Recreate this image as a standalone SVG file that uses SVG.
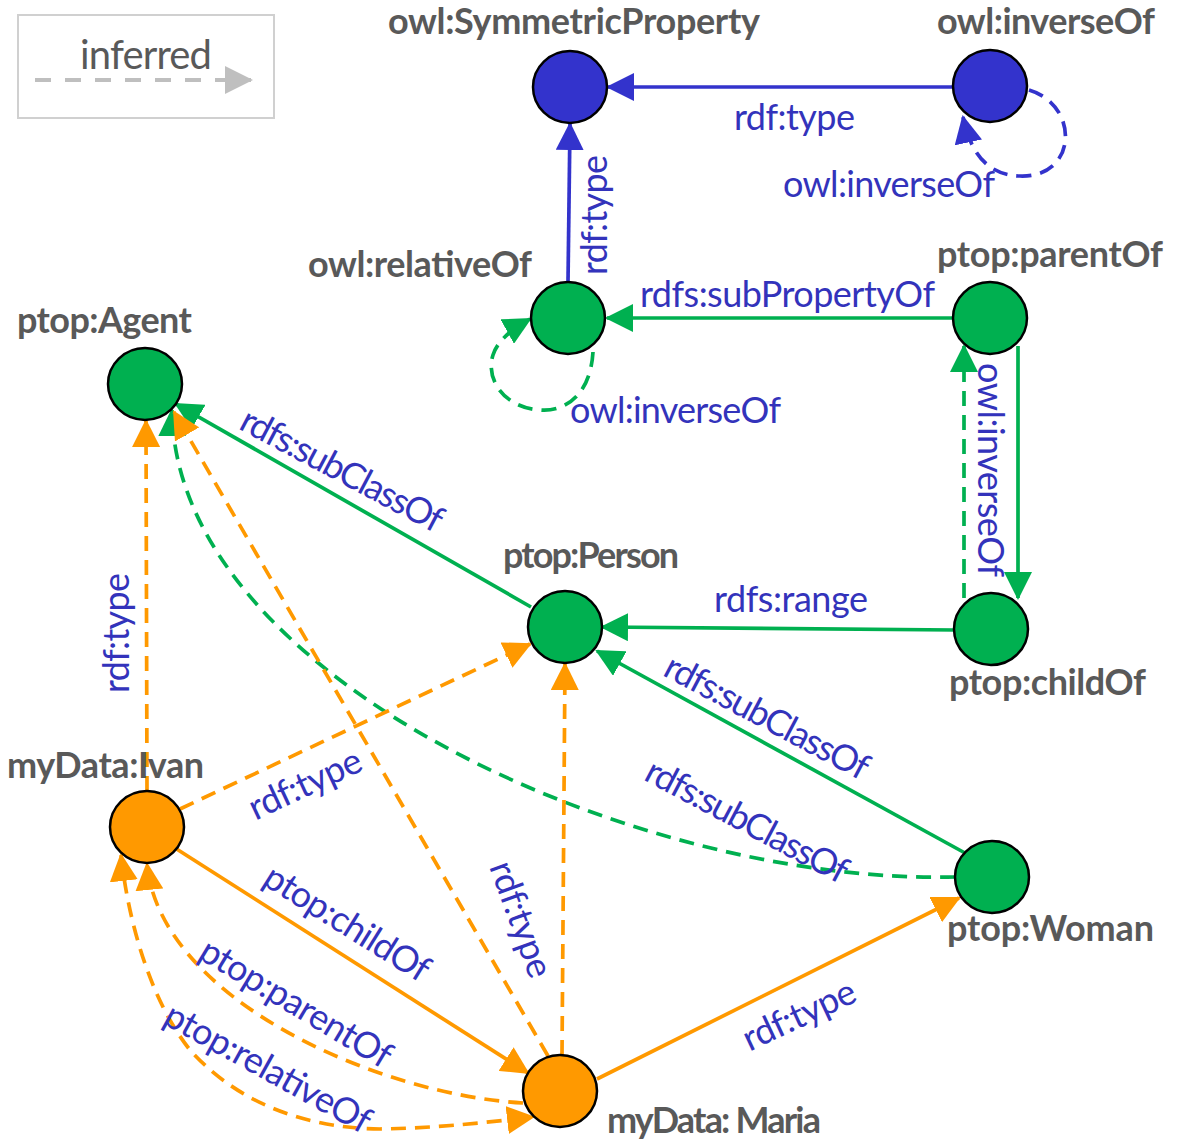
<svg xmlns="http://www.w3.org/2000/svg" width="1185" height="1142" viewBox="0 0 1185 1142">
<style>
.nl{font-family:Lato,"Open Sans","Liberation Sans",sans-serif;font-weight:bold;font-size:36px;fill:#595959}
.el{font-family:Lato,"Open Sans","Liberation Sans",sans-serif;font-size:36px;fill:#3333bb}
.n{stroke:#000;stroke-width:2.5}
.g{fill:#00b050}.b{fill:#3333cc}.o{fill:#ff9900}
.c{fill:none;stroke-width:3.7}
.cg{stroke:#00b050}.cb{stroke:#3333cc}.co{stroke:#ff9900}
.d{stroke-dasharray:15 9}
</style>
<defs>
<marker id="ag" markerUnits="userSpaceOnUse" markerWidth="28" markerHeight="28" refX="26" refY="14" orient="auto-start-reverse"><path d="M0,0L28,14L0,28z" fill="#00b050"/></marker>
<marker id="ab" markerUnits="userSpaceOnUse" markerWidth="28" markerHeight="28" refX="26" refY="14" orient="auto-start-reverse"><path d="M0,0L28,14L0,28z" fill="#3333cc"/></marker>
<marker id="ao" markerUnits="userSpaceOnUse" markerWidth="28" markerHeight="28" refX="26" refY="14" orient="auto-start-reverse"><path d="M0,0L28,14L0,28z" fill="#ff9900"/></marker>
<marker id="ax" markerUnits="userSpaceOnUse" markerWidth="28" markerHeight="28" refX="26" refY="14" orient="auto"><path d="M0,0L28,14L0,28z" fill="#bfbfbf"/></marker>
</defs>
<rect width="1185" height="1142" fill="#fff"/>
<g id="legend">
<rect x="18" y="15" width="256" height="103" fill="#fff" stroke="#d0d0d0" stroke-width="2"/>
<text x="80" y="69" textLength="132" style="font-family:Lato,'Open Sans','Liberation Sans',sans-serif;font-size:40px;fill:#595959">inferred</text>
<path d="M35,80H251" fill="none" stroke="#bfbfbf" stroke-width="4" stroke-dasharray="16 14" marker-end="url(#ax)"/>
</g>
<g id="connectors">
<path class="c cb" d="M953,87H608" marker-end="url(#ab)"/>
<path class="c cb d" d="M1029,90C1080,105 1078,178 1020,176C985,175 970,150 963,117" marker-end="url(#ab)"/>
<path class="c cb" d="M568,282L570,124" marker-end="url(#ab)"/>
<path class="c cg" d="M953,318H607" marker-end="url(#ag)"/>
<path class="c cg d" d="M593,352C590,400 560,412 540,410C505,408 485,380 493,355C497,342 510,330 530,319" marker-end="url(#ag)"/>
<path class="c cg" d="M1018,346V598" marker-end="url(#ag)"/>
<path class="c cg d" d="M964,598V346" marker-end="url(#ag)"/>
<path class="c cg" d="M955,630L602,627" marker-end="url(#ag)"/>
<path class="c cg" d="M531,607L176,404" marker-end="url(#ag)"/>
<path class="c cg" d="M965,853L597,651" marker-end="url(#ag)"/>
<path class="c cg d" d="M955,877C640,885 175,680 172,410" marker-end="url(#ag)"/>
<path class="c co d" d="M147,791L146,421" marker-end="url(#ao)"/>
<path class="c co d" d="M180,809L530,644" marker-end="url(#ao)"/>
<path class="c co d" d="M548,1056L174,412" marker-end="url(#ao)"/>
<path class="c co d" d="M562,1055L565,664" marker-end="url(#ao)"/>
<path class="c co" d="M175,848L528,1073" marker-end="url(#ao)"/>
<path class="c co d" d="M523,1103C380,1095 160,1000 147,864" marker-end="url(#ao)"/>
<path class="c co d" d="M121,855C128,920 150,1000 190,1050C235,1100 300,1128 380,1129C440,1128 490,1122 533,1117" marker-start="url(#ao)" marker-end="url(#ao)"/>
<path class="c co" d="M597,1079L959,898" marker-end="url(#ao)"/>
<text class="el" x="734" y="130" textLength="121">rdf:type</text>
<text class="el" x="783" y="197" textLength="212">owl:inverseOf</text>
<text class="el" x="640" y="307" textLength="295">rdfs:subPropertyOf</text>
<text class="el" x="570" y="423" textLength="211">owl:inverseOf</text>
<text class="el" x="714" y="612" textLength="154">rdfs:range</text>
<text class="el" transform="translate(607,215) rotate(-90)" text-anchor="middle" textLength="120">rdf:type</text>
<text class="el" transform="translate(978,470) rotate(90)" text-anchor="middle" textLength="214">owl:inverseOf</text>
<text class="el" transform="translate(129,633) rotate(-90)" text-anchor="middle" textLength="120">rdf:type</text>
<text class="el" transform="translate(341,472) rotate(28)" y="10" text-anchor="middle" textLength="224">rdfs:subClassOf</text>
<text class="el" transform="translate(766,719) rotate(28)" y="10" text-anchor="middle" textLength="226">rdfs:subClassOf</text>
<text class="el" transform="translate(746,823) rotate(28)" y="10" text-anchor="middle" textLength="224">rdfs:subClassOf</text>
<text class="el" transform="translate(306,786) rotate(-25)" y="10" text-anchor="middle" textLength="121">rdf:type</text>
<text class="el" transform="translate(519,920) rotate(70)" y="10" text-anchor="middle" textLength="121">rdf:type</text>
<text class="el" transform="translate(800,1017) rotate(-25)" y="10" text-anchor="middle" textLength="121">rdf:type</text>
<text class="el" transform="translate(346,925) rotate(32)" y="10" text-anchor="middle" textLength="188">ptop:childOf</text>
<text class="el" transform="translate(295,1005) rotate(31)" y="10" text-anchor="middle" textLength="217">ptop:parentOf</text>
<text class="el" transform="translate(267,1070) rotate(29)" y="10" text-anchor="middle" textLength="230">ptop:relativeOf</text>
</g>
<g id="owl-SymmetricProperty"><ellipse class="n b" cx="570" cy="87" rx="37" ry="36"/><text class="nl" x="388" y="34" textLength="372">owl:SymmetricProperty</text></g>
<g id="owl-inverseOf"><ellipse class="n b" cx="990" cy="86" rx="37" ry="36"/><text class="nl" x="937" y="34" textLength="218">owl:inverseOf</text></g>
<g id="owl-relativeOf"><ellipse class="n g" cx="568" cy="318" rx="37" ry="36"/><text class="nl" x="308" y="277" textLength="224">owl:relativeOf</text></g>
<g id="ptop-parentOf"><ellipse class="n g" cx="990" cy="318" rx="37" ry="36"/><text class="nl" x="937" y="267" textLength="226">ptop:parentOf</text></g>
<g id="ptop-Agent"><ellipse class="n g" cx="145" cy="384" rx="37" ry="36"/><text class="nl" x="17" y="333" textLength="175">ptop:Agent</text></g>
<g id="ptop-Person"><ellipse class="n g" cx="565" cy="627" rx="37" ry="36"/><text class="nl" x="503" y="568" textLength="176">ptop:Person</text></g>
<g id="ptop-childOf"><ellipse class="n g" cx="991" cy="629" rx="37" ry="36"/><text class="nl" x="949" y="695" textLength="197">ptop:childOf</text></g>
<g id="ptop-Woman"><ellipse class="n g" cx="992" cy="877" rx="37" ry="36"/><text class="nl" x="947" y="941" textLength="207">ptop:Woman</text></g>
<g id="myData-Ivan"><ellipse class="n o" cx="147" cy="827" rx="37" ry="36"/><text class="nl" x="7" y="778" textLength="197">myData:Ivan</text></g>
<g id="myData-Maria"><ellipse class="n o" cx="560" cy="1091" rx="37" ry="36"/><text class="nl" x="607" y="1133" textLength="214">myData: Maria</text></g>
</svg>
